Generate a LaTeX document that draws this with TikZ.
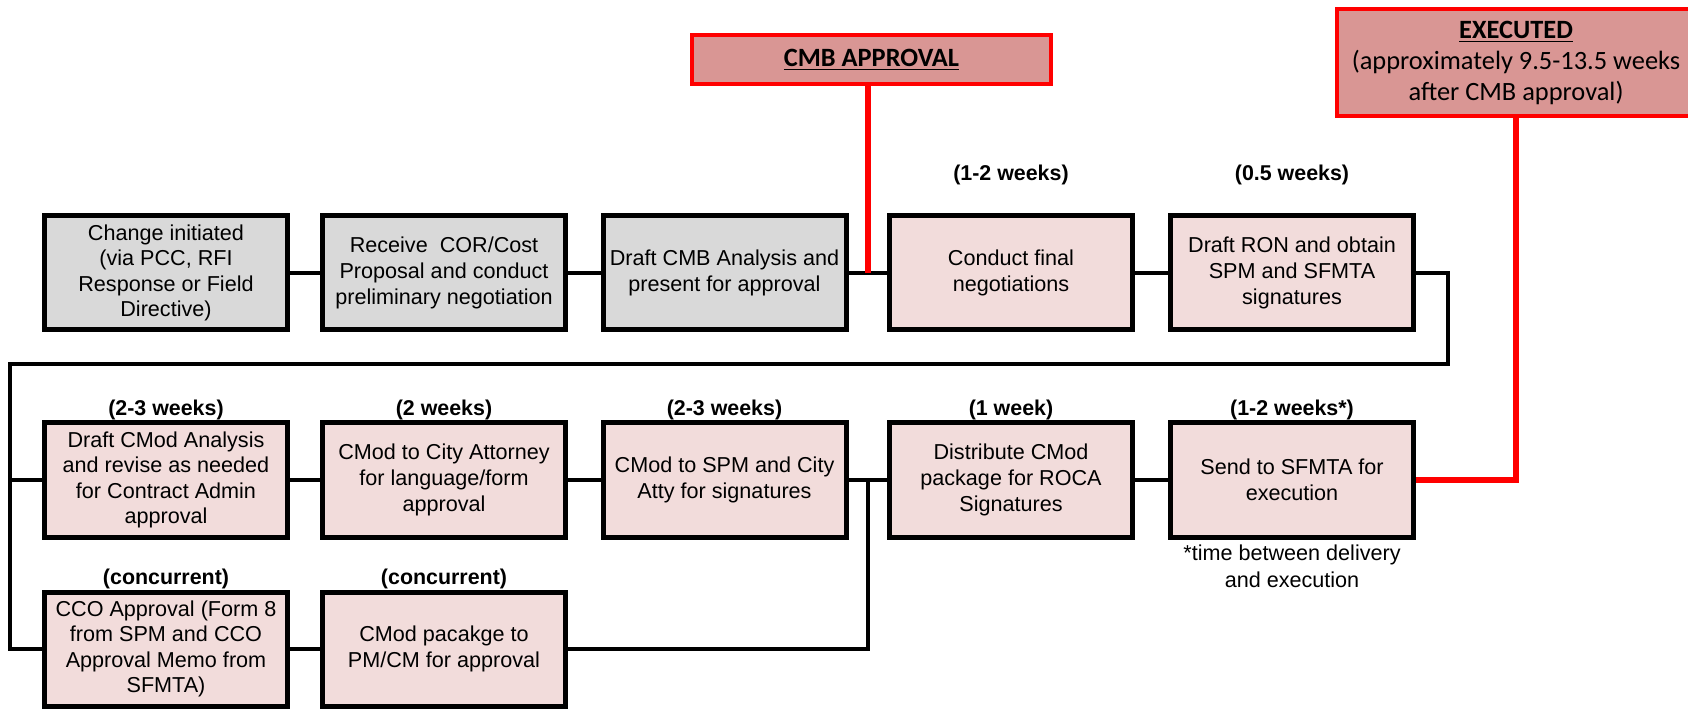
\documentclass[tikz,border=0pt]{standalone}
\usepackage{fontspec}
\setmainfont{Liberation Sans}
\newfontfamily\calibri{Carlito}
\definecolor{boxgrey}{HTML}{D9D9D9}
\definecolor{boxpink}{HTML}{F2DCDB}
\definecolor{boxred}{HTML}{D99694}
\definecolor{linered}{HTML}{FF0000}
\begin{document}
\begin{tikzpicture}[x=0.5pt, y=-0.5pt,
		box/.style={draw, line width=2.5pt, minimum width=121.5pt, minimum height=57pt,
			align=center, inner sep=2pt, font=\fontsize{10.8}{12.8}\selectfont},
		greybox/.style={box, fill=boxgrey},
		pinkbox/.style={box, fill=boxpink},
		redbox/.style={draw=linered, fill=boxred, line width=2pt, minimum width=179.5pt,
			align=center, font=\calibri\fontsize{13.2}{15.5}\selectfont},
		link/.style={line width=2pt, line join=miter},
		redlink/.style={draw=linered, line width=3pt, line join=miter},
		dur/.style={inner sep=0pt, font=\bfseries\fontsize{10.7}{12.8}\selectfont},
		note/.style={inner sep=0pt, align=center, font=\fontsize{10.8}{13.5}\selectfont}]
	\useasboundingbox (0,0) rectangle (1688,711);
	\node[redbox, minimum height=24.5pt] (cmb) at (871.5,59.5) {\underline{\textbf{CMB APPROVAL}}};
	\node[redbox, minimum height=53.5pt] (exe) at (1516,62.5)
		{\underline{\textbf{EXECUTED}}\\(approximately 9.5-13.5 weeks\\after CMB approval)};
	\node[greybox] (init) at (166,273) {Change initiated\\(via PCC, RFI\\Response or Field\\Directive)};
	\node[greybox] (recv) at (444,273) {Receive~ COR/Cost\\Proposal and conduct\\preliminary negotiation};
	\node[greybox] (cmba) at (724.5,273) {Draft CMB Analysis and\\present for approval};
	\node[pinkbox] (final) at (1011,273) {Conduct final\\negotiations};
	\node[pinkbox] (ron) at (1292,273) {Draft RON and obtain\\SPM and SFMTA\\signatures};
	\node[pinkbox] (cmod) at (166,480) {Draft CMod Analysis\\and revise as needed\\for Contract Admin\\approval};
	\node[pinkbox] (atty) at (444,480) {CMod to City Attorney\\for language/form\\approval};
	\node[pinkbox] (spm) at (724.5,480) {CMod to SPM and City\\Atty for signatures};
	\node[pinkbox] (roca) at (1011,480) {Distribute CMod\\package for ROCA\\Signatures};
	\node[pinkbox] (send) at (1292,480) {Send to SFMTA for\\execution};
	\node[pinkbox] (cco) at (166,649) {CCO Approval (Form 8\\from SPM and CCO\\Approval Memo from\\SFMTA)};
	\node[pinkbox] (pmcm) at (444,649) {CMod pacakge to\\PM/CM for approval};
	\node[dur] (t4) at (1011,175) {(1-2 weeks)};
	\node[dur] (t5) at (1292,175) {(0.5 weeks)};
	\node[dur] (t6) at (166,410) {(2-3 weeks)};
	\node[dur] (t7) at (444,410) {(2 weeks)};
	\node[dur] (t8) at (724.5,410) {(2-3 weeks)};
	\node[dur] (t9) at (1011,410) {(1 week)};
	\node[dur] (t10) at (1292,410) {(1-2 weeks*)};
	\node[dur] (t11) at (166,579) {(concurrent)};
	\node[dur] (t12) at (444,579) {(concurrent)};
	\node[note] (fn) at (1292,566) {*time between delivery\\and execution};
	\coordinate (turnR) at (1448,364);
	\coordinate (turnL) at (10,364);
	\coordinate (cmbjoin) at (868,273);
	\coordinate (pmjoin) at (868,480);
	\draw[link] (init) -- (recv);
	\draw[link] (recv) -- (cmba);
	\draw[link] (cmba) -- (final);
	\draw[link] (final) -- (ron);
	\draw[link] (ron.east) -| (turnR) -- (turnL) |- (cco.west);
	\draw[link] (turnL) |- (cmod.west);
	\draw[link] (cmod) -- (atty);
	\draw[link] (atty) -- (spm);
	\draw[link] (spm) -- (roca);
	\draw[link] (roca) -- (send);
	\draw[link] (cco) -- (pmcm);
	\draw[link] (pmcm.east) -| (pmjoin);
	\draw[redlink] (cmb.south -| cmbjoin) -- (cmbjoin);
	\draw[redlink] (send.east) -| (exe.south);
\end{tikzpicture}
\end{document}
